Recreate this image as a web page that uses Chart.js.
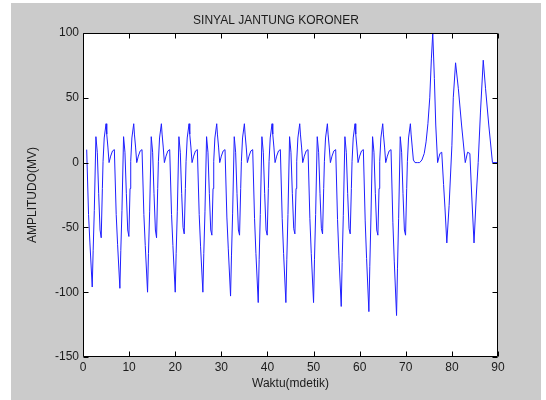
<!DOCTYPE html>
<html>
<head>
<meta charset="utf-8">
<script src="https://cdn.jsdelivr.net/npm/chart.js@4/dist/chart.umd.min.js"></script>
<style>
html, body { margin: 0; padding: 0; background: #ffffff; }
#wrap { position: absolute; left: 0; top: 0; width: 546px; height: 400px; }
</style>
</head>
<body>
<div id="wrap"><canvas id="c" width="546" height="400"></canvas></div>
<script>
const titleText = "SINYAL JANTUNG KORONER";
const xLabel = "Waktu(mdetik)";
const yLabel = "AMPLITUDO(MV)";
const xTicks = [0, 10, 20, 30, 40, 50, 60, 70, 80, 90];
const yTicks = [-150, -100, -50, 0, 50, 100];

const time = [
  0.8, 1.2, 1.5, 2.0, 2.2, 2.45, 2.8, 3.1, 3.4, 3.7, 3.95, 4.2, 4.35, 4.6, 5.0, 5.15, 5.4, 5.65, 6.0, 6.4,
  6.8, 7.2, 7.5, 8.0, 8.2, 8.45, 8.8, 9.1, 9.4, 9.7, 9.95, 10.2, 10.35, 10.6, 11.0, 11.15, 11.4, 11.65, 12.0, 12.4,
  12.8, 13.2, 13.5, 14.0, 14.2, 14.45, 14.8, 15.1, 15.4, 15.7, 15.95, 16.2, 16.35, 16.6, 17.0, 17.15, 17.4, 17.65, 18.0, 18.4,
  18.8, 19.2, 19.5, 20.0, 20.2, 20.45, 20.8, 21.1, 21.4, 21.7, 21.95, 22.2, 22.35, 22.6, 23.0, 23.15, 23.4, 23.65, 24.0, 24.4,
  24.8, 25.2, 25.5, 26.0, 26.2, 26.45, 26.8, 27.1, 27.4, 27.7, 27.95, 28.2, 28.35, 28.6, 29.0, 29.15, 29.4, 29.65, 30.0, 30.4,
  30.8, 31.2, 31.5, 32.0, 32.2, 32.45, 32.8, 33.1, 33.4, 33.7, 33.95, 34.2, 34.35, 34.6, 35.0, 35.15, 35.4, 35.65, 36.0, 36.4,
  36.8, 37.2, 37.5, 38.0, 38.2, 38.45, 38.8, 39.1, 39.4, 39.7, 39.95, 40.2, 40.35, 40.6, 41.0, 41.15, 41.4, 41.65, 42.0, 42.4,
  42.8, 43.2, 43.5, 44.0, 44.2, 44.45, 44.8, 45.1, 45.4, 45.7, 45.95, 46.2, 46.35, 46.6, 47.0, 47.15, 47.4, 47.65, 48.0, 48.4,
  48.8, 49.2, 49.5, 50.0, 50.2, 50.45, 50.8, 51.1, 51.4, 51.7, 51.95, 52.2, 52.35, 52.6, 53.0, 53.15, 53.4, 53.65, 54.0, 54.4,
  54.8, 55.2, 55.5, 56.0, 56.2, 56.45, 56.8, 57.1, 57.4, 57.7, 57.95, 58.2, 58.35, 58.6, 59.0, 59.15, 59.4, 59.65, 60.0, 60.4,
  60.8, 61.2, 61.5, 62.0, 62.2, 62.45, 62.8, 63.1, 63.4, 63.7, 63.95, 64.2, 64.35, 64.6, 65.0, 65.15, 65.4, 65.65, 66.0, 66.4,
  66.8, 67.2, 67.5, 68.0, 68.2, 68.45, 68.8, 69.1, 69.4, 69.7, 69.95, 70.2, 70.35, 70.6, 71.0, 71.15, 71.4, 71.65, 72.0,
  72.5, 73.0, 73.5, 74.0, 74.4, 74.8, 75.2, 75.55, 75.85, 76.2, 76.5, 76.9, 77.4, 77.8, 78.2, 78.5, 78.9, 79.4,
  80.0, 80.3, 80.8, 81.4, 82.1, 82.9, 83.4, 83.9, 84.3, 84.8, 85.3, 85.7, 86.2, 86.8, 87.3, 88.0, 88.8, 90.0
];

const amplitude = [
  10, -40, -62, -96, -68, -37, 20, 8, -24, -52, -58, -20, 1, 19, 30, 22, 12, 0, 5, 9,
  10, -40, -63, -97, -68, -37, 20, 8, -24, -52, -57, -20, 1, 19, 30, 22, 12, 0, 5, 9,
  10, -40, -64, -100, -70, -38, 20, 8, -24, -52, -58, -20, 1, 19, 30, 22, 12, 0, 5, 9,
  10, -40, -64, -100, -70, -38, 20, 8, -24, -50, -55, -20, 1, 19, 30, 22, 12, 0, 5, 9,
  10, -40, -65, -100, -70, -38, 20, 8, -24, -52, -56, -20, 1, 19, 30, 22, 12, 0, 5, 9,
  10, -42, -66, -103, -72, -39, 20, 8, -24, -52, -56, -20, 1, 19, 30, 22, 12, 0, 5, 9,
  10, -43, -70, -108, -75, -40, 20, 8, -24, -52, -56, -20, 1, 19, 30, 22, 12, 0, 5, 9,
  10, -43, -70, -108, -75, -40, 20, 8, -24, -51, -55, -20, 1, 19, 30, 22, 12, 0, 5, 9,
  10, -43, -70, -108, -75, -40, 20, 8, -24, -51, -55, -20, 1, 19, 30, 22, 12, 0, 5, 9,
  10, -44, -72, -111, -77, -41, 20, 8, -24, -51, -55, -20, 1, 19, 30, 22, 12, 0, 5, 9,
  10, -45, -74, -115, -80, -42, 20, 8, -24, -52, -56, -20, 1, 19, 30, 22, 12, 0, 5, 9,
  10, -46, -76, -118, -82, -43, 20, 8, -24, -52, -56, -20, 1, 19, 30, 22, 12, 2, 0,
  0, 0, 2, 7, 16, 30, 50, 80, 100, 65, 29, 0, 7, 8, -17, -35, -62, -33,
  13, 50, 77, 57, 29, 0, 8, 7, -25, -62, -25, 0, 39, 79, 57, 29, 0, 0
];

const FIG_BG = '#cbcbcb';
const TEXT = '#1c1c1c';
const FONT = { family: "'Liberation Sans', Arial, sans-serif", size: 12 };

const points = time.map((t, i) => ({ x: t, y: amplitude[i] }));

const figurePlugin = {
  id: 'figurePlugin',
  beforeDraw(chart) {
    const ctx = chart.ctx;
    const a = chart.chartArea;
    ctx.save();
    ctx.fillStyle = '#ffffff';
    ctx.fillRect(0, 0, chart.width, chart.height);
    ctx.fillStyle = FIG_BG;
    ctx.fillRect(11, 3, chart.width - 16, chart.height - 3);
    ctx.fillStyle = '#ffffff';
    ctx.fillRect(a.left, a.top, a.right - a.left, a.bottom - a.top);
    ctx.restore();
  },
  afterDraw(chart) {
    const ctx = chart.ctx;
    const a = chart.chartArea;
    const xs = chart.scales.x, ys = chart.scales.y;
    ctx.save();
    ctx.strokeStyle = '#000000';
    ctx.lineWidth = 1;
    const L = Math.round(a.left) + 0.5, R = Math.round(a.right) - 0.5;
    const T = Math.round(a.top) + 0.5, B = Math.round(a.bottom) - 0.5;
    ctx.beginPath();
    ctx.rect(L, T, R - L, B - T);
    const tl = 5;
    xTicks.forEach(v => {
      const px = Math.round(xs.getPixelForValue(v)) + 0.5;
      ctx.moveTo(px, B); ctx.lineTo(px, B - tl);
      ctx.moveTo(px, T); ctx.lineTo(px, T + tl);
    });
    yTicks.forEach(v => {
      const py = Math.round(ys.getPixelForValue(v)) + 0.5;
      ctx.moveTo(L, py); ctx.lineTo(L + tl, py);
      ctx.moveTo(R, py); ctx.lineTo(R - tl, py);
    });
    ctx.stroke();
    ctx.restore();
  }
};

new Chart(document.getElementById('c'), {
  type: 'line',
  data: {
    datasets: [{
      data: points,
      borderColor: '#1f1fff',
      borderWidth: 1,
      pointRadius: 0,
      tension: 0,
      fill: false,
      yAxisID: 'y'
    }]
  },
  options: {
    responsive: false,
    devicePixelRatio: 1,
    animation: false,
    events: [],
    layout: { padding: { left: 6, right: 0, top: 0, bottom: 0 } },
    plugins: {
      legend: { display: false },
      tooltip: { enabled: false },
      title: {
        display: true,
        text: titleText,
        color: TEXT,
        font: { family: FONT.family, size: 12, weight: 'normal' },
        padding: { top: 13, bottom: 5.6 }
      }
    },
    scales: {
      x: {
        type: 'linear',
        min: 0, max: 90,
        afterBuildTicks: s => { s.ticks = xTicks.map(v => ({ value: v })); },
        afterFit: s => { s.height = 43; },
        grid: { display: false, drawTicks: false },
        border: { display: false },
        ticks: { color: TEXT, font: FONT, padding: 3, maxRotation: 0, autoSkip: false },
        title: { display: true, text: xLabel, color: TEXT, font: FONT, padding: { top: 0, bottom: 8.8 } }
      },
      y: {
        type: 'linear',
        position: 'left',
        min: -150, max: 100,
        afterBuildTicks: s => { s.ticks = yTicks.map(v => ({ value: v })); },
        afterFit: s => { s.width = 77; },
        grid: { display: false, drawTicks: false },
        border: { display: false },
        ticks: { color: TEXT, font: FONT, padding: 4, autoSkip: false },
        title: { display: true, text: yLabel, color: TEXT, font: FONT, padding: { top: 19.8, bottom: 0 } }
      },
      yRight: {
        type: 'linear',
        position: 'right',
        min: -150, max: 100,
        afterFit: s => { s.width = 48; },
        grid: { display: false, drawTicks: false },
        border: { display: false },
        ticks: { display: false },
        title: { display: false }
      }
    }
  },
  plugins: [figurePlugin]
});
</script>
</body>
</html>
